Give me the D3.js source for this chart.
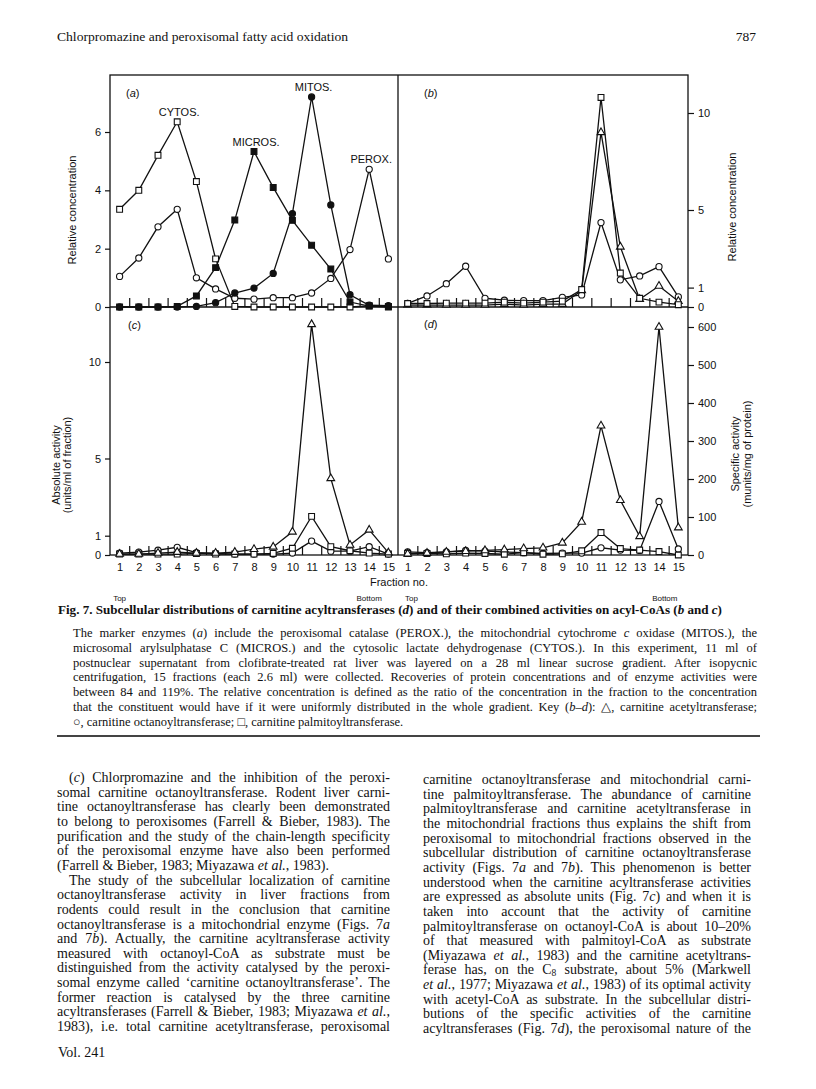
<!DOCTYPE html>
<html>
<head>
<meta charset="utf-8">
<title>Fig. 7 - carnitine acyltransferases</title>
<script src="https://d3js.org/d3.v7.min.js"></script>
<style>
  body { margin: 0; background: #fff; }
  svg { display: block; }
  .serif { font-family: 'Liberation Serif', 'Times New Roman', serif; fill: #111; }
  .sans { font-family: 'Liberation Sans', Arial, sans-serif; fill: #111; }
  .frame, .series { fill: none; stroke: #111; stroke-width: 1.3; }
  .axis text { font-family: 'Liberation Sans', Arial, sans-serif; font-size: 11px; fill: #111; }
  .axis line { stroke: #111; stroke-width: 1.2; }
  .axis path { display: none; }
</style>
</head>
<body>
<script>
// fraction numbers, top -> bottom of the gradient
var fractions = d3.range(1, 16);
var boundaries = d3.range(1.5, 15, 1);

// (a) marker enzymes, relative concentration
var cytos  = [3.35, 4.0, 5.2, 6.35, 4.3, 1.65, 0.02, 0, 0, 0, 0, 0, 0, 0.04, 0];
var micros = [0, 0, 0, 0.02, 0.38, 1.35, 2.98, 5.33, 4.1, 2.97, 2.12, 1.3, 0.17, 0.03, 0.02];
var mitos  = [0, 0, 0, 0, 0.02, 0.15, 0.48, 0.65, 1.15, 3.2, 7.2, 3.5, 0.42, 0.06, 0.05];
var perox  = [1.05, 1.68, 2.75, 3.35, 1.0, 0.62, 0.3, 0.27, 0.32, 0.32, 0.48, 0.98, 1.97, 4.72, 1.65];

// (b) relative concentration
var acetylB    = [0.1, 0.1, 0.1, 0.1, 0.1, 0.15, 0.1, 0.15, 0.15, 0.85, 9.0, 3.1, 0.4, 1.08, 0.3];
var octanoylB  = [0.19, 0.57, 1.2, 2.1, 0.45, 0.35, 0.33, 0.33, 0.5, 0.62, 4.35, 1.4, 1.6, 2.08, 0.52];
var palmitoylB = [0.18, 0.18, 0.2, 0.2, 0.2, 0.25, 0.2, 0.25, 0.3, 0.9, 10.8, 1.75, 0.45, 0.25, 0.12];

// (c) absolute activity (units/ml of fraction)
var acetylC    = [0.05, 0.05, 0.1, 0.15, 0.1, 0.1, 0.15, 0.3, 0.42, 1.2, 11.95, 3.97, 0.52, 1.3, 0.12];
var octanoylC  = [0.1, 0.15, 0.25, 0.4, 0.12, 0.08, 0.05, 0.05, 0.05, 0.1, 0.72, 0.2, 0.2, 0.43, 0.05];
var palmitoylC = [0.05, 0.05, 0.05, 0.05, 0.08, 0.05, 0.05, 0.05, 0.08, 0.35, 2.0, 0.43, 0.22, 0.1, 0.05];

// (d) specific activity (munits/mg of protein)
var acetylD    = [3, 5, 8, 10, 12, 14, 17, 19, 32, 87, 340, 144, 49, 600, 72];
var octanoylD  = [8, 6, 8, 12, 10, 8, 6, 4, 5, 5, 19, 13, 12, 141, 16];
var palmitoylD = [4, 4, 3, 5, 4, 2, 6, 2, 3, 11, 59, 17, 13, 9, 0];

var ticksA = [0, 2, 4, 6];
var ticksB = [0, 1, 5, 10];
var ticksC = [0, 1, 5, 10];
var ticksD = [0, 100, 200, 300, 400, 500, 600];

var headerText = "Chlorpromazine and peroxisomal fatty acid oxidation";
var pageNo = "787";
var figTitle = "Fig. 7. Subcellular distributions of carnitine acyltransferases (*d*) and of their combined activities on acyl-CoAs (*b* and *c*)";

// [text, flags]  i = indented, e = end of paragraph (not justified)
var captionLines = [
  ["The marker enzymes (*a*) include the peroxisomal catalase (PEROX.), the mitochondrial cytochrome *c* oxidase (MITOS.), the"],
  ["microsomal arylsulphatase C (MICROS.) and the cytosolic lactate dehydrogenase (CYTOS.). In this experiment, 11 ml of"],
  ["postnuclear supernatant from clofibrate-treated rat liver was layered on a 28 ml linear sucrose gradient. After isopycnic"],
  ["centrifugation, 15 fractions (each 2.6 ml) were collected. Recoveries of protein concentrations and of enzyme activities were"],
  ["between 84 and 119%. The relative concentration is defined as the ratio of the concentration in the fraction to the concentration"],
  ["that the constituent would have if it were uniformly distributed in the whole gradient. Key (*b–d*): △, carnitine acetyltransferase;"],
  ["○, carnitine octanoyltransferase; □, carnitine palmitoyltransferase.", "e"]
];

var leftLines = [
  ["(*c*) Chlorpromazine and the inhibition of the peroxi-", "i"],
  ["somal carnitine octanoyltransferase. Rodent liver carni-"],
  ["tine octanoyltransferase has clearly been demonstrated"],
  ["to belong to peroxisomes (Farrell & Bieber, 1983). The"],
  ["purification and the study of the chain-length specificity"],
  ["of the peroxisomal enzyme have also been performed"],
  ["(Farrell & Bieber, 1983; Miyazawa *et al.*, 1983).", "e"],
  ["The study of the subcellular localization of carnitine", "i"],
  ["octanoyltransferase activity in liver fractions from"],
  ["rodents could result in the conclusion that carnitine"],
  ["octanoyltransferase is a mitochondrial enzyme (Figs. 7*a*"],
  ["and 7*b*). Actually, the carnitine acyltransferase activity"],
  ["measured with octanoyl-CoA as substrate must be"],
  ["distinguished from the activity catalysed by the peroxi-"],
  ["somal enzyme called ‘carnitine octanoyltransferase’. The"],
  ["former reaction is catalysed by the three carnitine"],
  ["acyltransferases (Farrell & Bieber, 1983; Miyazawa *et al.*,"],
  ["1983), i.e. total carnitine acetyltransferase, peroxisomal"]
];

var rightLines = [
  ["carnitine octanoyltransferase and mitochondrial carni-"],
  ["tine palmitoyltransferase. The abundance of carnitine"],
  ["palmitoyltransferase and carnitine acetyltransferase in"],
  ["the mitochondrial fractions thus explains the shift from"],
  ["peroxisomal to mitochondrial fractions observed in the"],
  ["subcellular distribution of carnitine octanoyltransferase"],
  ["activity (Figs. 7*a* and 7*b*). This phenomenon is better"],
  ["understood when the carnitine acyltransferase activities"],
  ["are expressed as absolute units (Fig. 7*c*) and when it is"],
  ["taken into account that the activity of carnitine"],
  ["palmitoyltransferase on octanoyl-CoA is about 10–20%"],
  ["of that measured with palmitoyl-CoA as substrate"],
  ["(Miyazawa *et al.*, 1983) and the carnitine acetyltrans-"],
  ["ferase has, on the C_8_ substrate, about 5% (Markwell"],
  ["*et al.*, 1977; Miyazawa *et al.*, 1983) of its optimal activity"],
  ["with acetyl-CoA as substrate. In the subcellular distri-"],
  ["butions of the specific activities of the carnitine"],
  ["acyltransferases (Fig. 7*d*), the peroxisomal nature of the"]
];

var svg = d3.select("body").append("svg")
  .attr("width", 816)
  .attr("height", 1089);

// figure frame
var frameLeft = 110, frameMid = 398, frameRight = 688,
    frameTop = 75, frameMidY = 307, frameBottom = 555;

var xL = d3.scaleLinear().domain([0.5, 15.5]).range([frameLeft, frameMid]);
var xR = d3.scaleLinear().domain([0.5, 15.5]).range([frameMid, frameRight]);
var yA = d3.scaleLinear().domain([0, 6]).range([frameMidY, 132]);
var yB = d3.scaleLinear().domain([0, 10]).range([frameMidY, 113]);
var yC = d3.scaleLinear().domain([0, 10]).range([frameBottom, 362]);
var yD = d3.scaleLinear().domain([0, 600]).range([frameBottom, 327]);

var fig = svg.append("g");

fig.append("rect").attr("class", "frame")
  .attr("x", frameLeft).attr("y", frameTop)
  .attr("width", frameRight - frameLeft).attr("height", frameBottom - frameTop);
fig.append("line").attr("class", "frame")
  .attr("x1", frameMid).attr("x2", frameMid).attr("y1", frameTop).attr("y2", frameBottom);
fig.append("line").attr("class", "frame")
  .attr("x1", frameLeft).attr("x2", frameRight).attr("y1", frameMidY).attr("y2", frameMidY);

// y axes
var fmt = d3.format("d");
fig.append("g").attr("class", "axis").attr("transform", "translate(" + frameLeft + ",0)")
  .call(d3.axisLeft(yA).tickValues(ticksA).tickFormat(fmt).tickSize(5).tickPadding(4));
fig.append("g").attr("class", "axis").attr("transform", "translate(" + frameRight + ",0)")
  .call(d3.axisRight(yB).tickValues(ticksB).tickFormat(fmt).tickSize(6).tickPadding(4));
fig.append("g").attr("class", "axis").attr("transform", "translate(" + frameLeft + ",0)")
  .call(d3.axisLeft(yC).tickValues(ticksC).tickFormat(fmt).tickSize(5).tickPadding(4));
fig.append("g").attr("class", "axis").attr("transform", "translate(" + frameRight + ",0)")
  .call(d3.axisRight(yD).tickValues(ticksD).tickFormat(fmt).tickSize(6).tickPadding(4));

// fraction boundary ticks on the zero lines
[[xL, frameMidY], [xR, frameMidY], [xL, frameBottom], [xR, frameBottom]].forEach(function (p) {
  fig.append("g").attr("class", "axis").attr("transform", "translate(0," + p[1] + ")")
    .call(d3.axisTop(p[0]).tickValues(boundaries).tickSize(9).tickFormat(""));
});

// fraction numbers
[xL, xR].forEach(function (x) {
  fig.append("g").attr("class", "axis").attr("transform", "translate(0," + frameBottom + ")")
    .call(d3.axisBottom(x).tickValues(fractions).tickSize(0).tickPadding(8));
});

// axis titles
function vLabel(x, y, txt, size) {
  fig.append("text").attr("class", "sans")
    .attr("transform", "translate(" + x + "," + y + ") rotate(-90)")
    .attr("text-anchor", "middle")
    .style("font-size", size + "px")
    .text(txt);
}
vLabel(76, 210, "Relative concentration", 11);
vLabel(736, 207, "Relative concentration", 11);
vLabel(60, 465, "Absolute activity", 11);
vLabel(71, 465, "(units/ml of fraction)", 11);
vLabel(739, 454, "Specific activity", 11);
vLabel(751, 454, "(munits/mg of protein)", 11);

fig.append("text").attr("class", "sans").attr("x", (frameLeft + frameRight) / 2).attr("y", 586)
  .attr("text-anchor", "middle").style("font-size", "11px").text("Fraction no.");
[[xL(1), "Top"], [xL(14), "Bottom"], [xR(1.2), "Top"], [xR(14.3), "Bottom"]].forEach(function (t) {
  fig.append("text").attr("class", "sans").attr("x", t[0]).attr("y", 601)
    .attr("text-anchor", "middle").style("font-size", "8px").text(t[1]);
});

// panel letters
[["a", frameLeft + 16, frameTop + 22], ["b", frameMid + 26, frameTop + 22],
 ["c", frameLeft + 18, frameMidY + 22], ["d", frameMid + 26, frameMidY + 21]]
  .forEach(function (p) {
    var t = fig.append("text").attr("class", "sans").attr("x", p[1]).attr("y", p[2])
      .style("font-size", "11px");
    t.append("tspan").text("(");
    t.append("tspan").style("font-style", "italic").text(p[0]);
    t.append("tspan").text(")");
  });

// series
var sym = {
  circle: d3.symbol().type(d3.symbolCircle).size(30),
  square: d3.symbol().type(d3.symbolSquare).size(34),
  triangle: d3.symbol().type(d3.symbolTriangle).size(26)
};

function drawSeries(x, y, values, shape, filled) {
  var g = fig.append("g");
  var line = d3.line()
    .x(function (d, i) { return x(fractions[i]); })
    .y(function (d) { return y(d); });
  g.append("path").attr("class", "series").attr("d", line(values));
  g.selectAll(".pt").data(values).enter().append("path")
    .attr("class", "pt")
    .attr("transform", function (d, i) { return "translate(" + x(fractions[i]) + "," + y(d) + ")"; })
    .attr("d", sym[shape])
    .attr("fill", filled ? "#111" : "#fff")
    .attr("stroke", "#111")
    .attr("stroke-width", 1.1);
}

drawSeries(xL, yA, cytos, "square", false);
drawSeries(xL, yA, perox, "circle", false);
drawSeries(xL, yA, micros, "square", true);
drawSeries(xL, yA, mitos, "circle", true);

drawSeries(xR, yB, octanoylB, "circle", false);
drawSeries(xR, yB, acetylB, "triangle", false);
drawSeries(xR, yB, palmitoylB, "square", false);

drawSeries(xL, yC, octanoylC, "circle", false);
drawSeries(xL, yC, palmitoylC, "square", false);
drawSeries(xL, yC, acetylC, "triangle", false);

drawSeries(xR, yD, octanoylD, "circle", false);
drawSeries(xR, yD, palmitoylD, "square", false);
drawSeries(xR, yD, acetylD, "triangle", false);

// marker enzyme labels above their peaks
[["CYTOS.", cytos], ["MICROS.", micros], ["MITOS.", mitos], ["PEROX.", perox]].forEach(function (m) {
  var k = d3.maxIndex(m[1]);
  fig.append("text").attr("class", "sans")
    .attr("x", xL(fractions[k]) + 2).attr("y", yA(m[1][k]) - 6)
    .attr("text-anchor", "middle").style("font-size", "11px")
    .text(m[0]);
});

// ---- page text ----
function richText(t, txt, size) {
  var shift = 0;
  txt.split(/(\*[^*]+\*|_[^_]+_)/).forEach(function (part) {
    if (!part) return;
    var s;
    if (part[0] === "*") {
      s = t.append("tspan").style("font-style", "italic").text(part.slice(1, -1));
    } else if (part[0] === "_") {
      t.append("tspan").attr("dy", 2).style("font-size", (size * 0.68) + "px").text(part.slice(1, -1));
      shift = 2;
      return;
    } else {
      s = t.append("tspan").text(part);
    }
    if (shift) { s.attr("dy", -shift); shift = 0; }
  });
}

function writeLines(g, lines, x0, x1, y0, lead, size, indent) {
  lines.forEach(function (ln, i) {
    var flag = ln[1] || "";
    var x = x0 + (flag.indexOf("i") >= 0 ? indent : 0);
    var t = g.append("text").attr("class", "serif")
      .attr("x", x).attr("y", y0 + i * lead)
      .style("font-size", size + "px");
    richText(t, ln[0], size);
    if (flag.indexOf("e") < 0) {
      var w = x1 - x;
      var n = t.node().getComputedTextLength();
      var sp = (ln[0].match(/ /g) || []).length;
      if (n > w) t.attr("textLength", w).attr("lengthAdjust", "spacingAndGlyphs");
      else if (sp) t.style("word-spacing", ((w - n) / sp) + "px");
    }
  });
}

var page = svg.append("g");

page.append("text").attr("class", "serif").attr("x", 57).attr("y", 41)
  .style("font-size", "13.5px").attr("textLength", 291).attr("lengthAdjust", "spacingAndGlyphs")
  .text(headerText);
page.append("text").attr("class", "serif").attr("x", 756).attr("y", 41)
  .attr("text-anchor", "end").style("font-size", "13.5px").text(pageNo);

var ttl = page.append("text").attr("class", "serif").attr("x", 58).attr("y", 614)
  .style("font-size", "12.5px").style("font-weight", "bold")
  .attr("textLength", 664).attr("lengthAdjust", "spacingAndGlyphs");
richText(ttl, figTitle, 12.5);

writeLines(page, captionLines, 73, 757, 637, 14.8, 12.5, 0);

page.append("line").attr("x1", 57).attr("x2", 760).attr("y1", 736).attr("y2", 736)
  .attr("stroke", "#444").attr("stroke-width", 2);

writeLines(page, leftLines, 57, 390, 782, 14.65, 14, 12);
writeLines(page, rightLines, 423, 751, 784, 14.65, 14, 12);

page.append("text").attr("class", "serif").attr("x", 58).attr("y", 1057)
  .style("font-size", "14px").text("Vol. 241");
</script>
</body>
</html>
